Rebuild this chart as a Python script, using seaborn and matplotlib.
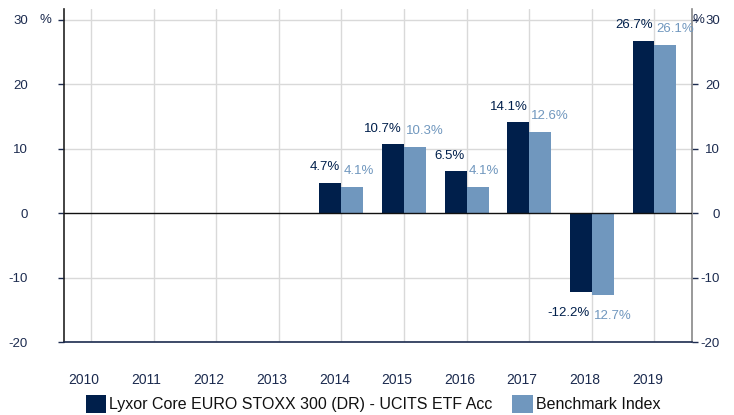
import pandas as pd
import numpy as np
import matplotlib.pyplot as plt
import matplotlib.transforms as mtransforms
from matplotlib.patches import Patch
import seaborn as sns

# -- data --
years = ['2010', '2011', '2012', '2013', '2014', '2015', '2016', '2017', '2018', '2019']
data_years = ['2014', '2015', '2016', '2017', '2018', '2019']
etf_values = [4.7, 10.7, 6.5, 14.1, -12.2, 26.7]
bench_values = [4.1, 10.3, 4.1, 12.6, -12.7, 26.1]
etf_name = 'Lyxor Core EURO STOXX 300 (DR) - UCITS ETF Acc'
bench_name = 'Benchmark Index'
y_ticks = [-20, -10, 0, 10, 20, 30]

dark = '#001f4b'
light = '#7097be'
text_col = '#1c2b4f'

df = pd.concat([
    pd.DataFrame({'year': data_years, 'value': etf_values, 'series': etf_name}),
    pd.DataFrame({'year': data_years, 'value': bench_values, 'series': bench_name}),
])

sns.set_style('white')
plt.rcParams['font.family'] = ['Liberation Sans', 'DejaVu Sans']

fig = plt.figure(figsize=(7.34, 4.15), dpi=100)
ax = fig.add_axes([64 / 734, 1 - 342 / 415, (692 - 64) / 734, (342 - 9) / 415])

sns.barplot(data=df, x='year', y='value', hue='series', order=years,
            hue_order=[etf_name, bench_name], palette=[dark, light],
            width=0.7, gap=0, saturation=1, errorbar=None, legend=False,
            linewidth=0, zorder=3, ax=ax)

ax.set_xlim(-0.43, 9.6)
ax.set_ylim(-20, 31.7)
ax.set_yticks(y_ticks)
ax.set_yticklabels([str(v) for v in y_ticks])

# grid
ax.set_axisbelow(True)
for y in y_ticks:
    if y != 0:
        ax.axhline(y, color='#d9d9d9', lw=1, zorder=0)
for i in range(len(years)):
    ax.axvline(i, color='#d9d9d9', lw=1, zorder=0)
ax.axhline(0, color='#111111', lw=1, zorder=4)

# spines
ax.spines['top'].set_visible(False)
ax.spines['left'].set_color('#222222')
ax.spines['right'].set_color('#888888')
ax.spines['bottom'].set_color('#1c2b4f')
for s in ['left', 'right', 'bottom']:
    ax.spines[s].set_linewidth(1.2)

ax.tick_params(axis='y', which='both', left=True, right=True, labelleft=True,
               labelright=True, length=4, width=1, color='#1c2b4f',
               labelsize=9.5, labelcolor=text_col, pad=22)
ax.tick_params(axis='x', length=0, labelsize=10, labelcolor=text_col, pad=22)
for lab in ax.get_yticklabels():
    lab.set_horizontalalignment('right')
right_shift = mtransforms.ScaledTranslation(-0.08, 0, fig.dpi_scale_trans)
for tick in ax.yaxis.get_major_ticks():
    tick.label2.set_transform(tick.label2.get_transform() + right_shift)
offset = mtransforms.ScaledTranslation(-0.07, 0, fig.dpi_scale_trans)
for lab in ax.get_xticklabels():
    lab.set_transform(lab.get_transform() + offset)
ax.set_xlabel('')
ax.set_ylabel('')

# % markers
fig.text(45 / 734, 1 - 20 / 415, '%', fontsize=9.5, color=text_col, ha='center', va='center')
fig.text(698 / 734, 1 - 20 / 415, '%', fontsize=9.5, color=text_col, ha='center', va='center')

# value labels
for i, yr in enumerate(data_years):
    xc = years.index(yr)
    for val, col, ha, dx in [(etf_values[i], dark, 'right', -0.03),
                             (bench_values[i], light, 'left', 0.03)]:
        if val >= 0:
            ax.annotate(f'{val:.1f}%', (xc + dx, val), xytext=(0, 7),
                        textcoords='offset points', ha=ha, va='bottom',
                        fontsize=9.5, color=col)
        else:
            ax.annotate(f'{val:.1f}%' if col == dark else f'{abs(val):.1f}%',
                        (xc + dx, val), xytext=(0, -11),
                        textcoords='offset points', ha=ha, va='top',
                        fontsize=9.5, color=col)

# legend
handles = [Patch(facecolor=dark, edgecolor='none', label=etf_name),
           Patch(facecolor=light, edgecolor='none', label=bench_name)]
fig.legend(handles=handles, loc='center', bbox_to_anchor=(373 / 734, 1 - 404 / 415),
           ncol=2, frameon=False, fontsize=11.5, handlelength=1.3, handleheight=1.3,
           handletextpad=0.2, columnspacing=1.2, labelcolor='#111111',
           borderaxespad=0, borderpad=0)

plt.savefig('out.png', dpi=100)
